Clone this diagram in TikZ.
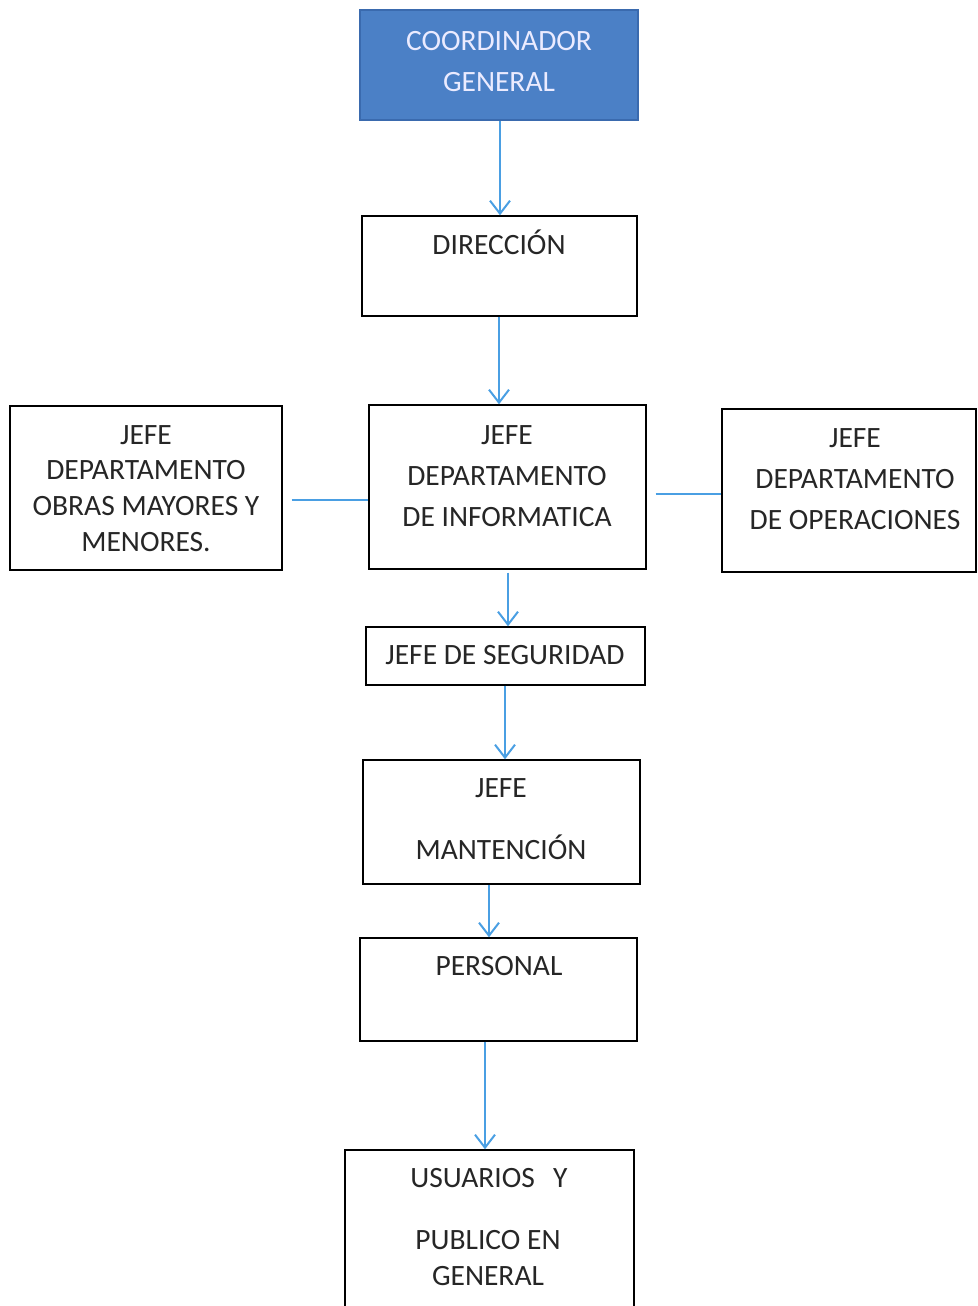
\documentclass[tikz,border=0pt]{standalone}
\usepackage{fontspec}
\setmainfont{Carlito}
\usetikzlibrary{arrows.meta}
\definecolor{connblue}{HTML}{4A9FE3}
\definecolor{topfill}{HTML}{4B80C6}
\definecolor{topline}{HTML}{3A6AAE}
\definecolor{ink}{HTML}{262626}
\tikzset{
  box/.style={draw=black, line width=1.4pt, inner sep=0pt},
  topbox/.style={draw=topline, fill=topfill, line width=2pt, inner sep=0pt},
  lbl/.style={anchor=base, inner sep=0pt, text=ink, font=\fontsize{29.5}{34}\selectfont},
  wlbl/.style={lbl, text=white!92!blue},
  connline/.style={draw=connblue, line width=2pt},
  arrline/.style={draw=connblue, line width=2pt, -{Straight Barb[length=13pt, width=20pt, line width=2pt]}},
}
\begin{document}
\begin{tikzpicture}[x=1pt, y=-1pt]
\useasboundingbox (0,0) rectangle (977,1306);
\begin{scope}
\clip (0,0) rectangle (977,1306);
\node[topbox, minimum width=278pt, minimum height=110pt] (coord) at (499,65) {};
\node[box, minimum width=275pt, minimum height=100pt] (dir) at (499.5,266) {};
\node[box, minimum width=272pt, minimum height=164pt] (obras) at (146,488) {};
\node[box, minimum width=277pt, minimum height=164pt] (info) at (507.5,487) {};
\node[box, minimum width=254pt, minimum height=163pt] (oper) at (849,490.5) {};
\node[box, minimum width=279pt, minimum height=58pt] (seg) at (505.5,656) {};
\node[box, minimum width=277pt, minimum height=124pt] (mant) at (501.5,822) {};
\node[box, minimum width=277pt, minimum height=103pt] (pers) at (498.5,989.5) {};
\node[box, minimum width=289pt, minimum height=170pt] (usu) at (489.5,1235) {};
\end{scope}
% labels
\node[wlbl] (t1) at (499,51) {COORDINADOR};
\node[wlbl] (t2) at (499,92) {GENERAL};
\node[lbl] (t3) at (499,254) {DIRECCIÓN};
\node[lbl] (t4) at (146,444) {JEFE};
\node[lbl] (t5) at (146,479) {DEPARTAMENTO};
\node[lbl] (t6) at (146,515) {OBRAS MAYORES Y};
\node[lbl] (t7) at (146,551) {MENORES.};
\node[lbl] (t8) at (507,444) {JEFE};
\node[lbl] (t9) at (507,485) {DEPARTAMENTO};
\node[lbl] (t10) at (507,526) {DE INFORMATICA};
\node[lbl] (t11) at (855,447) {JEFE};
\node[lbl] (t12) at (855,488) {DEPARTAMENTO};
\node[lbl] (t13) at (855,529) {DE OPERACIONES};
\node[lbl] (t14) at (505,664) {JEFE DE SEGURIDAD};
\node[lbl] (t15) at (501,797) {JEFE};
\node[lbl] (t16) at (501,859) {MANTENCIÓN};
\node[lbl] (t17) at (499,975) {PERSONAL};
\node[lbl] (t18) at (489,1187) {USUARIOS\hspace{0.62em}Y};
\node[lbl] (t19) at (488,1249) {PUBLICO EN};
\node[lbl] (t20) at (488,1285) {GENERAL};
% connectors
\coordinate (a1) at ([xshift=1pt]coord.south);
\coordinate (a2) at ([xshift=-0.5pt]dir.south);
\coordinate (a3) at ([xshift=0.5pt,yshift=-3pt]info.south);
\coordinate (a4) at ([xshift=-0.5pt]seg.south);
\coordinate (a5) at ([xshift=-12.5pt]mant.south);
\coordinate (a6) at ([xshift=-13.5pt]pers.south);
\draw[arrline] (a1) -- (a1 |- dir.north);
\draw[arrline] (a2) -- (a2 |- info.north);
\draw[arrline] (a3) -- (a3 |- seg.north);
\draw[arrline] (a4) -- (a4 |- mant.north);
\draw[arrline] (a5) -- (a5 |- pers.north);
\draw[arrline] (a6) -- (a6 |- usu.north);
\coordinate (lstart) at ([xshift=9pt,yshift=-12pt]obras.east);
\coordinate (rstart) at ([xshift=9pt,yshift=-7pt]info.east);
\draw[connline] (lstart) -- (lstart -| info.west);
\draw[connline] (rstart) -- (rstart -| oper.west);
\end{tikzpicture}
\end{document}
